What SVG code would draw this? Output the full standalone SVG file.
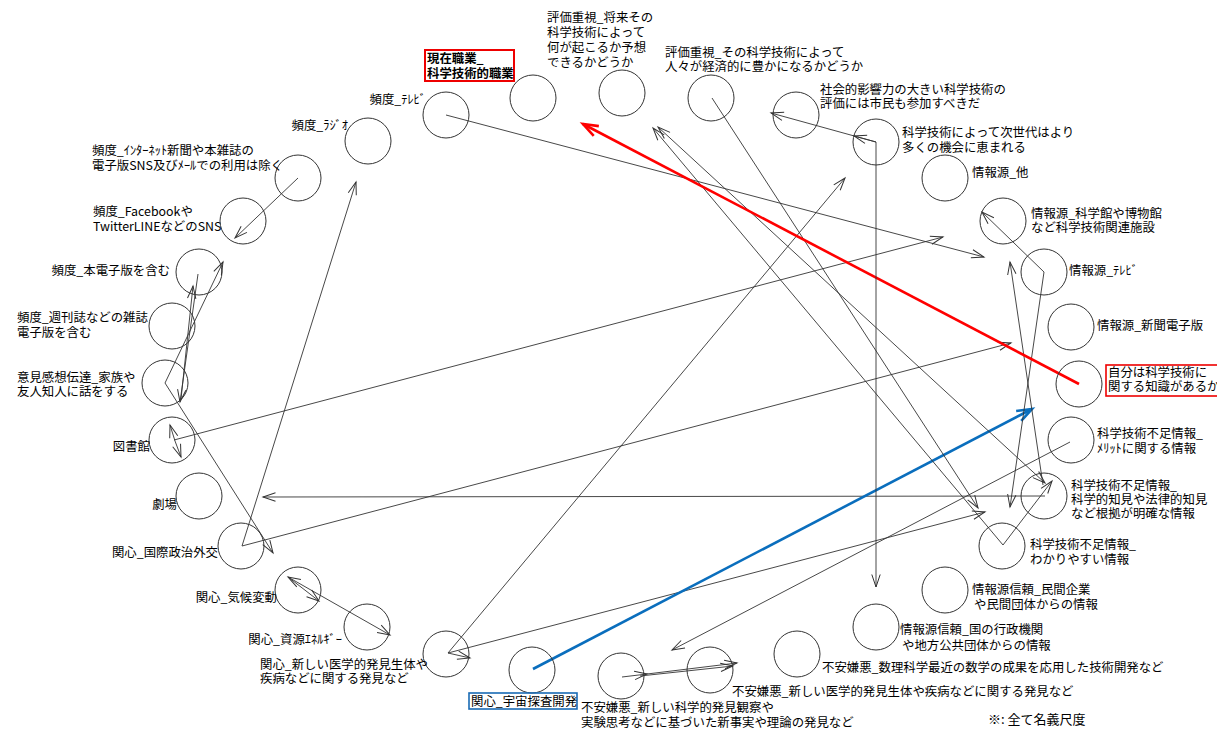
<svg xmlns="http://www.w3.org/2000/svg" width="1217" height="729" viewBox="0 0 1217 729">
<defs>
<style>
.n circle{fill:none;stroke:#333;stroke-width:1}
text{font-family:"Noto Sans CJK JP","Noto Sans",sans-serif;font-size:12.4px;fill:#000}
.e{text-anchor:end}
.b{font-weight:bold}
#edges path{fill:none;stroke:#333;stroke-width:0.9;marker-end:url(#ah)}
#edges path.red{stroke:#f00;stroke-width:2.6;marker-end:url(#ahr)}
#edges path.blue{stroke:#0a6ebd;stroke-width:2.6;marker-end:url(#ahb)}
#edges path.both{marker-start:url(#ah)}
</style>
<marker id="ah" viewBox="0 0 13 9" refX="12.5" refY="4.5" markerWidth="13" markerHeight="9" markerUnits="userSpaceOnUse" orient="auto-start-reverse" overflow="visible"><path d="M0,0.3 L12.5,4.5 L0,8.7" fill="none" stroke="#333" stroke-width="1"/></marker>
<marker id="ahr" viewBox="0 0 16 12" refX="15" refY="6" markerWidth="16" markerHeight="12" markerUnits="userSpaceOnUse" orient="auto" overflow="visible"><path d="M0,0.5 L15,6 L0,11.5" fill="none" stroke="#f00" stroke-width="2.6"/></marker>
<marker id="ahb" viewBox="0 0 16 12" refX="15" refY="6" markerWidth="16" markerHeight="12" markerUnits="userSpaceOnUse" orient="auto" overflow="visible"><path d="M0,0.5 L15,6 L0,11.5" fill="none" stroke="#0a6ebd" stroke-width="2.6"/></marker>
</defs>
<rect width="1217" height="729" fill="#fff"/>

<g id="edges">
<path d="M446,115 L984,257"/>
<path d="M298,178 L235,238"/>
<path d="M242,546 L356,182"/>
<path d="M242,546 L1011,343"/>
<path d="M165,383 L223,262"/>
<path d="M165,383 L273,553"/>
<path d="M198,274 L180,402"/>
<path d="M181,399 L193,286"/>
<path d="M174,440 L943,237"/>
<path d="M175,441 L170,425"/>
<path d="M175,441 L181,457"/>
<path d="M1045,496 L263,497"/>
<path class="both" d="M288,577 L390,635"/>
<path d="M288,577 L319,601"/>
<path d="M448,653 L845,178"/>
<path d="M448,653 L985,512"/>
<path d="M448,653 L470,658"/>
<path class="blue" d="M533,669 L1032,409"/>
<path d="M622,677 L647,674"/>
<path d="M647,674 L737,663"/>
<path d="M640,676 L733,666"/>
<path d="M1070,442 L672,650"/>
<path d="M1003,545 L653,128"/>
<path class="both" d="M1045,483 L658,127"/>
<path d="M1003,545 L1052,481"/>
<path d="M712,98 L978,508"/>
<path d="M1044,272 L982,212"/>
<path d="M1044,272 L1010,507"/>
<path d="M1043,485 L1010,262"/>
<path class="red" d="M1079,384 L583,124"/>
<path d="M876,142 L771,113"/>
<path d="M876,142 L854,136"/>
<path d="M876,142 L876,587"/>
</g>

<g id="n1" class="n"><circle cx="446" cy="115" r="23"/><text x="426" y="104" class="e">頻度_ﾃﾚﾋﾞ</text></g>
<g id="n2" class="n"><circle cx="533" cy="98" r="23"/><rect x="425" y="50" width="89" height="31" fill="none" stroke="#e00" stroke-width="2"/><text x="427" y="63" class="b">現在職業_</text><text x="427" y="78" class="b">科学技術的職業</text></g>
<g id="n3" class="n"><circle cx="622" cy="93" r="23"/><text x="547" y="22">評価重視_将来その</text><text x="547" y="37">科学技術によって</text><text x="547" y="52">何が起こるか予想</text><text x="547" y="67">できるかどうか</text></g>
<g id="n4" class="n"><circle cx="711" cy="98" r="23"/><text x="665" y="57">評価重視_その科学技術によって</text><text x="665" y="71">人々が経済的に豊かになるかどうか</text></g>
<g id="n5" class="n"><circle cx="796" cy="115" r="23"/><text x="820" y="94">社会的影響力の大きい科学技術の</text><text x="820" y="108">評価には市民も参加すべきだ</text></g>
<g id="n6" class="n"><circle cx="876" cy="142" r="23"/><text x="902" y="137">科学技術によって次世代はより</text><text x="902" y="152">多くの機会に恵まれる</text></g>
<g id="n7" class="n"><circle cx="945" cy="178" r="23"/><text x="972" y="177">情報源_他</text></g>
<g id="n8" class="n"><circle cx="1003" cy="221" r="23"/><text x="1031" y="218">情報源_科学館や博物館</text><text x="1031" y="232">など科学技術関連施設</text></g>
<g id="n9" class="n"><circle cx="1044" cy="272" r="23"/><text x="1069" y="275">情報源_ﾃﾚﾋﾞ</text></g>
<g id="n10" class="n"><circle cx="1071" cy="327" r="23"/><text x="1097" y="330">情報源_新聞電子版</text></g>
<g id="n11" class="n"><circle cx="1079" cy="384" r="23"/><rect x="1106" y="365" width="120" height="31" fill="none" stroke="#e00" stroke-width="1.6"/><text x="1108" y="377">自分は科学技術に</text><text x="1108" y="391">関する知識があるか</text></g>
<g id="n12" class="n"><circle cx="1071" cy="440" r="23"/><text x="1097" y="438">科学技術不足情報_</text><text x="1097" y="453">ﾒﾘｯﾄに関する情報</text></g>
<g id="n13" class="n"><circle cx="1044" cy="496" r="23"/><text x="1071" y="490">科学技術不足情報_</text><text x="1071" y="504">科学的知見や法律的知見</text><text x="1071" y="518">など根拠が明確な情報</text></g>
<g id="n14" class="n"><circle cx="1002" cy="546" r="23"/><text x="1030" y="549">科学技術不足情報_</text><text x="1030" y="564">わかりやすい情報</text></g>
<g id="n15" class="n"><circle cx="945" cy="590" r="23"/><text x="972" y="594">情報源信頼_民間企業</text><text x="974" y="609">や民間団体からの情報</text></g>
<g id="n16" class="n"><circle cx="876" cy="627" r="23"/><text x="900" y="634">情報源信頼_国の行政機関</text><text x="902" y="650">や地方公共団体からの情報</text></g>
<g id="n17" class="n"><circle cx="797" cy="654" r="23"/><text x="822" y="672">不安嫌悪_数理科学最近の数学の成果を応用した技術開発など</text></g>
<g id="n18" class="n"><circle cx="710" cy="670" r="23"/><text x="732" y="696">不安嫌悪_新しい医学的発見生体や疾病などに関する発見など</text></g>
<g id="n19" class="n"><circle cx="621" cy="676" r="23"/><text x="581" y="712">不安嫌悪_新しい科学的発見観察や</text><text x="581" y="727">実験思考などに基づいた新事実や理論の発見など</text></g>
<g id="n20" class="n"><circle cx="532" cy="670" r="23"/><rect x="469" y="693" width="108" height="16" fill="none" stroke="#1a6bb5" stroke-width="1.6"/><text x="471" y="706">関心_宇宙探査開発</text></g>
<g id="n21" class="n"><circle cx="446" cy="654" r="23"/><text x="260" y="669">関心_新しい医学的発見生体や</text><text x="260" y="683">疾病などに関する発見など</text></g>
<g id="n22" class="n"><circle cx="367" cy="627" r="23"/><text x="342" y="644" class="e">関心_資源ｴﾈﾙｷﾞｰ</text></g>
<g id="n23" class="n"><circle cx="298" cy="590" r="23"/><text x="277" y="602" class="e">関心_気候変動</text></g>
<g id="n24" class="n"><circle cx="241" cy="546" r="23"/><text x="218" y="557" class="e">関心_国際政治外交</text></g>
<g id="n25" class="n"><circle cx="199" cy="496" r="23"/><text x="177" y="509" class="e">劇場</text></g>
<g id="n26" class="n"><circle cx="172" cy="440" r="23"/><text x="150" y="451" class="e">図書館</text></g>
<g id="n27" class="n"><circle cx="165" cy="383" r="23"/><text x="17" y="382">意見感想伝達_家族や</text><text x="17" y="396">友人知人に話をする</text></g>
<g id="n28" class="n"><circle cx="172" cy="326" r="23"/><text x="17" y="322">頻度_週刊誌などの雑誌</text><text x="17" y="337">電子版を含む</text></g>
<g id="n29" class="n"><circle cx="199" cy="272" r="23"/><text x="170" y="275" class="e">頻度_本電子版を含む</text></g>
<g id="n30" class="n"><circle cx="243" cy="221" r="23"/><text x="93" y="216">頻度_Facebookや</text><text x="93" y="231">TwitterLINEなどのSNS</text></g>
<g id="n31" class="n"><circle cx="298" cy="178" r="23"/><text x="92" y="155">頻度_ｲﾝﾀｰﾈｯﾄ新聞や本雑誌の</text><text x="92" y="170">電子版SNS及びﾒｰﾙでの利用は除く</text></g>
<g id="n32" class="n"><circle cx="368" cy="141" r="23"/><text x="348" y="130" class="e">頻度_ﾗｼﾞｵ</text></g>

<text x="988" y="724" style="font-size:13px">※: 全て名義尺度</text>
</svg>
